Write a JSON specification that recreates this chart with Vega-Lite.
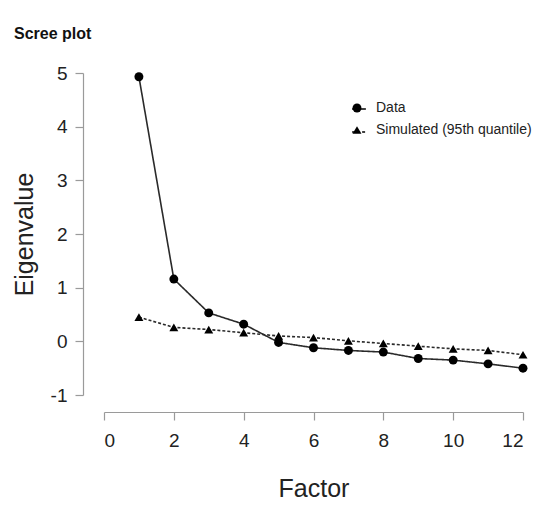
{
  "$schema": "https://vega.github.io/schema/vega-lite/v6.json",
  "width": 419,
  "height": 322,
  "autosize": {"type": "none"},
  "padding": {"left": 104, "top": 73, "right": 37, "bottom": 116},
  "background": "white",
  "title": {
    "text": "Scree plot",
    "anchor": "start",
    "frame": "group",
    "dx": -90,
    "offset": 22,
    "fontSize": 16,
    "fontWeight": "bold",
    "font": "Liberation Sans",
    "color": "#111111"
  },
  "data": {
    "values": [
      {"factor": 1, "eigenvalue": 4.93, "series": "Data"},
      {"factor": 2, "eigenvalue": 1.16, "series": "Data"},
      {"factor": 3, "eigenvalue": 0.53, "series": "Data"},
      {"factor": 4, "eigenvalue": 0.32, "series": "Data"},
      {"factor": 5, "eigenvalue": -0.02, "series": "Data"},
      {"factor": 6, "eigenvalue": -0.12, "series": "Data"},
      {"factor": 7, "eigenvalue": -0.17, "series": "Data"},
      {"factor": 8, "eigenvalue": -0.2, "series": "Data"},
      {"factor": 9, "eigenvalue": -0.32, "series": "Data"},
      {"factor": 10, "eigenvalue": -0.35, "series": "Data"},
      {"factor": 11, "eigenvalue": -0.42, "series": "Data"},
      {"factor": 12, "eigenvalue": -0.5, "series": "Data"},
      {"factor": 1, "eigenvalue": 0.45, "series": "Simulated (95th quantile)"},
      {"factor": 2, "eigenvalue": 0.26, "series": "Simulated (95th quantile)"},
      {"factor": 3, "eigenvalue": 0.22, "series": "Simulated (95th quantile)"},
      {"factor": 4, "eigenvalue": 0.16, "series": "Simulated (95th quantile)"},
      {"factor": 5, "eigenvalue": 0.1, "series": "Simulated (95th quantile)"},
      {"factor": 6, "eigenvalue": 0.07, "series": "Simulated (95th quantile)"},
      {"factor": 7, "eigenvalue": 0.01, "series": "Simulated (95th quantile)"},
      {"factor": 8, "eigenvalue": -0.04, "series": "Simulated (95th quantile)"},
      {"factor": 9, "eigenvalue": -0.09, "series": "Simulated (95th quantile)"},
      {"factor": 10, "eigenvalue": -0.14, "series": "Simulated (95th quantile)"},
      {"factor": 11, "eigenvalue": -0.17, "series": "Simulated (95th quantile)"},
      {"factor": 12, "eigenvalue": -0.25, "series": "Simulated (95th quantile)"}
    ]
  },
  "config": {
    "view": {"stroke": null},
    "axis": {
      "grid": false,
      "domainColor": "#9a9a9a",
      "domainWidth": 1.2,
      "tickColor": "#9a9a9a",
      "tickWidth": 1.2,
      "tickSize": 8,
      "labelFont": "Liberation Sans",
      "labelFontSize": 19,
      "labelColor": "#222222",
      "titleFont": "Liberation Sans",
      "titleFontSize": 25,
      "titleFontWeight": "normal",
      "titleColor": "#222222"
    }
  },
  "encoding": {
    "x": {
      "field": "factor",
      "type": "quantitative",
      "scale": {"domain": [0, 12], "nice": false, "zero": false},
      "axis": {
        "values": [0, 2, 4, 6, 8, 10, 12],
        "title": "Factor",
        "offset": 17,
        "labelPadding": 11,
        "titlePadding": 26
      }
    },
    "y": {
      "field": "eigenvalue",
      "type": "quantitative",
      "scale": {"domain": [-1, 5], "nice": false, "zero": false},
      "axis": {
        "values": [-1, 0, 1, 2, 3, 4, 5],
        "labelExpr": "'' + datum.value",
        "title": "Eigenvalue",
        "offset": 21,
        "labelPadding": 8,
        "titlePadding": 13
      }
    }
  },
  "layer": [
    {
      "mark": {"type": "line", "color": "#2a2a2a", "strokeWidth": 1.6},
      "encoding": {
        "detail": {"field": "series", "type": "nominal"},
        "strokeDash": {
          "field": "series",
          "type": "nominal",
          "scale": {"domain": ["Simulated (95th quantile)", "Data"], "range": [[3, 2], [1, 0]]},
          "legend": {
            "orient": "none",
            "legendX": 247,
            "legendY": 28,
            "title": null,
            "padding": 0,
            "values": ["Data", "Simulated (95th quantile)"],
            "symbolType": "stroke",
            "symbolSize": 190,
            "symbolStrokeColor": "#000000",
            "symbolStrokeWidth": 1.5,
            "labelFont": "Liberation Sans",
            "labelFontSize": 14,
            "labelExpr": "''",
            "rowPadding": 8
          }
        }
      }
    },
    {
      "mark": {"type": "point", "filled": true, "opacity": 1, "color": "#000000", "size": 80},
      "encoding": {
        "shape": {
          "field": "series",
          "type": "nominal",
          "scale": {"domain": ["Data", "Simulated (95th quantile)"], "range": ["circle", "triangle-up"]},
          "legend": {
            "orient": "none",
            "legendX": 246,
            "legendY": 28,
            "title": null,
            "padding": 0,
            "labelFont": "Liberation Sans",
            "labelFontSize": 14,
            "labelColor": "#222222",
            "symbolSize": 80,
            "symbolFillColor": "#000000",
            "symbolStrokeColor": "#000000",
            "symbolStrokeWidth": 1.2,
            "labelOffset": 12,
            "rowPadding": 8
          }
        }
      }
    }
  ]
}
